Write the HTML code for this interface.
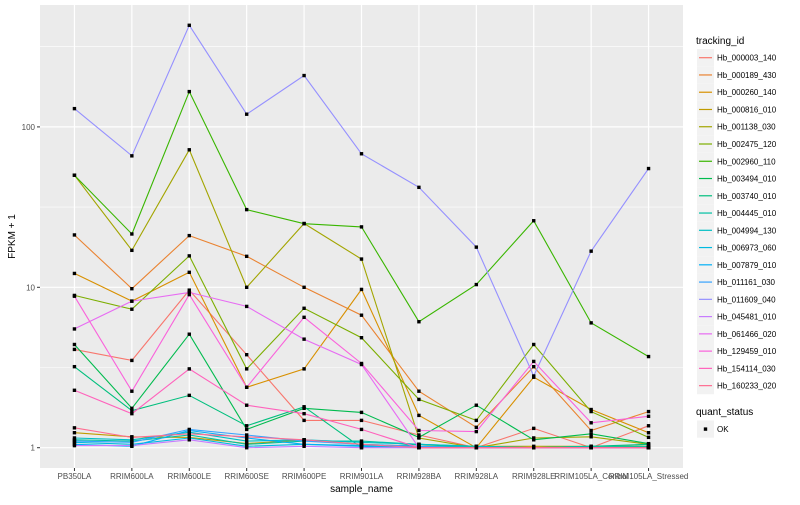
<!DOCTYPE html>
<html><head><meta charset="utf-8">
<style>
body{margin:0;background:#fff;font-family:"Liberation Sans",sans-serif;}
svg text{font-family:"Liberation Sans",sans-serif;}
</style></head>
<body>
<svg id="chart" width="800" height="500" xmlns="http://www.w3.org/2000/svg">
<rect width="800" height="500" fill="#fff"/>
<g id="panel"></g>
<g id="axes"></g>
<g id="legend"></g>
</svg>
<script>
const categories=["PB350LA","RRIM600LA","RRIM600LE","RRIM600SE","RRIM600PE","RRIM901LA","RRIM928BA","RRIM928LA","RRIM928LE","RRIM105LA_Control","RRIM105LA_Stressed"];
const seriesNames=["Hb_000003_140","Hb_000189_430","Hb_000260_140","Hb_000816_010","Hb_001138_030","Hb_002475_120","Hb_002960_110","Hb_003494_010","Hb_003740_010","Hb_004445_010","Hb_004994_130","Hb_006973_060","Hb_007879_010","Hb_011161_030","Hb_011609_040","Hb_045481_010","Hb_061466_020","Hb_129459_010","Hb_154114_030","Hb_160233_020"];
const seriesColors=["#F8766D","#EA8331","#D89000","#C09B00","#A3A500","#7CAE00","#39B600","#00BB4E","#00BF7D","#00C1A3","#00BFC4","#00BAE0","#00B0F6","#35A2FF","#9590FF","#C77CFF","#E76BF3","#FA62DB","#FF62BC","#FF6C91"];
const v000003=[4.1,3.5,9.6,3.8,1.48,1.48,1.2,1.0,1.32,1.0,1.37];
const v000189=[21.2,9.8,21,15.6,10,6.7,2.25,1.34,3.2,1.28,1.68];
const v000260=[12.2,8.2,12.4,2.38,3.1,9.7,1.59,1.0,2.75,1.73,1.24];
const v000816=[1.24,1.17,1.16,1.06,1.12,1.05,1.02,1.02,1.02,1.02,1.02];
const v001138=[50,17,72,10,25,15,1.15,1.0,1.15,1.17,1.05];
const v002475=[8.9,7.3,15.7,3.1,7.4,4.85,2.0,1.48,4.4,1.68,1.16];
const v002960=[50,21.5,166,30.5,24.9,23.8,6.1,10.4,26,6.0,3.7];
const v003494=[4.4,1.76,5.1,1.3,1.76,1.66,1.16,1.84,1.12,1.22,1.06];
const v003740=[3.2,1.7,2.12,1.37,1.8,1.0,1.05,1.0,1.0,1.02,1.05];
const v004445=[1.12,1.1,1.2,1.05,1.1,1.1,1.05,1.02,1.0,1.02,1.02];
const v004994=[1.15,1.12,1.25,1.1,1.12,1.08,1.05,1.02,1.0,1.0,1.0];
const v006973=[1.08,1.05,1.15,1.02,1.05,1.03,1.02,1.0,1.0,1.0,1.0];
const v007879=[1.05,1.02,1.28,1.15,1.05,1.02,1.0,1.0,1.0,1.0,1.0];
const v011161=[1.1,1.08,1.3,1.2,1.1,1.05,1.02,1.0,1.0,1.0,1.0];
const v011609=[130,66,430,120,209,68,42,17.8,2.8,16.8,55];
const v045481=[1.03,1.03,1.12,1.0,1.02,1.0,1.0,1.0,1.0,1.0,1.0];
const v061466=[5.5,8.2,9.3,7.6,4.75,3.3,1.0,1.0,1.0,1.0,1.0];
const v129459=[8.8,2.25,9.0,2.38,6.5,3.35,1.28,1.26,3.45,1.43,1.57];
const v154114=[2.28,1.63,3.1,1.84,1.63,1.3,1.0,1.0,1.0,1.0,1.0];
const v160233=[1.33,1.16,1.22,1.17,1.12,1.05,1.0,1.0,1.0,1.0,1.0];
const seriesValues=[v000003,v000189,v000260,v000816,v001138,v002475,v002960,v003494,v003740,v004445,v004994,v006973,v007879,v011161,v011609,v045481,v061466,v129459,v154114,v160233];
const yTickValues=[1,10,100];
const yTickLabels=["1","10","100"];

const NS="http://www.w3.org/2000/svg";
const PL=40,PR=683,PT=5,PB=468;
const step=(PR-PL)/(categories.length-1+1.2);
function xScale(i){return PL+0.6*step+i*step;}
function yScale(v){return 447.7-160.4*Math.log10(v);}
function mk(tag,attrs,parent){const e=document.createElementNS(NS,tag);for(const k in attrs)e.setAttribute(k,attrs[k]);parent.appendChild(e);return e;}
const panel=document.getElementById('panel'),axes=document.getElementById('axes'),legend=document.getElementById('legend');
const bg=mk('rect',{x:PL,y:PT,width:PR-PL,height:PB-PT,fill:'#EBEBEB'},panel);


// minor grid
[0.5,1.5,2.5].forEach(l=>{const y=yScale(Math.pow(10,l));if(y>PT&&y<PB){const g=mk('line',{x1:PL,x2:PR,y1:y,y2:y,stroke:'#fff','stroke-width':0.6},panel);}});
yTickValues.forEach((v,i)=>{const y=yScale(v);
const g=mk('line',{x1:PL,x2:PR,y1:y,y2:y,stroke:'#fff','stroke-width':1.2},panel);


const t=mk('line',{x1:PL-3,x2:PL,y1:y,y2:y,stroke:'#333','stroke-width':1},axes);


const lb=mk('text',{x:PL-5,y:y+3,'text-anchor':'end','font-size':8,fill:'#4D4D4D'},axes);lb.textContent=yTickLabels[i];

});
categories.forEach((c,i)=>{const x=xScale(i);
const g=mk('line',{x1:x,x2:x,y1:PT,y2:PB,stroke:'#fff','stroke-width':1.2},panel);


const t=mk('line',{x1:x,x2:x,y1:PB,y2:PB+3,stroke:'#333','stroke-width':1},axes);


const lb=mk('text',{x:x,y:PB+11,'text-anchor':'middle','font-size':8,fill:'#4D4D4D'},axes);lb.textContent=c;

});
seriesValues.forEach((vals,s)=>{const pts=vals.map((v,i)=>xScale(i).toFixed(1)+','+yScale(v).toFixed(1)).join(' ');
const pl=mk('polyline',{points:pts,fill:'none',stroke:seriesColors[s],'stroke-width':1.1},panel);

});
seriesValues.forEach((vals,s)=>{vals.forEach((v,i)=>{const r=mk('rect',{x:xScale(i)-1.7,y:yScale(v)-1.7,width:3.4,height:3.4,fill:'#000'},panel);

});});
const xt=mk('text',{x:(PL+PR)/2,y:492,'text-anchor':'middle','font-size':10,fill:'#000'},axes);xt.textContent='sample_name';


const yt=mk('text',{x:15,y:(PT+PB)/2,'text-anchor':'middle','font-size':10,fill:'#000',transform:'rotate(-90 15 '+((PT+PB)/2)+')'},axes);yt.textContent='FPKM + 1';


// legend
const lt=mk('text',{x:696,y:44,'font-size':10,fill:'#000'},legend);lt.textContent='tracking_id';


seriesNames.forEach((n,i)=>{const cy=57.7+i*17.26;
const g=mk('g',{},legend);


mk('rect',{x:697,y:cy-8.6,width:17,height:17.2,fill:'#F2F2F2'},g);
mk('line',{x1:699,x2:712,y1:cy,y2:cy,stroke:seriesColors[i],'stroke-width':1.2},g);
const t=mk('text',{x:717,y:cy+3,'font-size':8,fill:'#000'},g);t.textContent=n;});
const qt=mk('text',{x:696,y:415,'font-size':10,fill:'#000'},legend);qt.textContent='quant_status';


const qg=mk('g',{},legend);


mk('rect',{x:697,y:420.5,width:17,height:17.2,fill:'#F2F2F2'},qg);
mk('rect',{x:703.8,y:427.4,width:3.4,height:3.4,fill:'#000'},qg);
const ok=mk('text',{x:717,y:432,'font-size':8,fill:'#000'},qg);ok.textContent='OK';
</script>
</body></html>
